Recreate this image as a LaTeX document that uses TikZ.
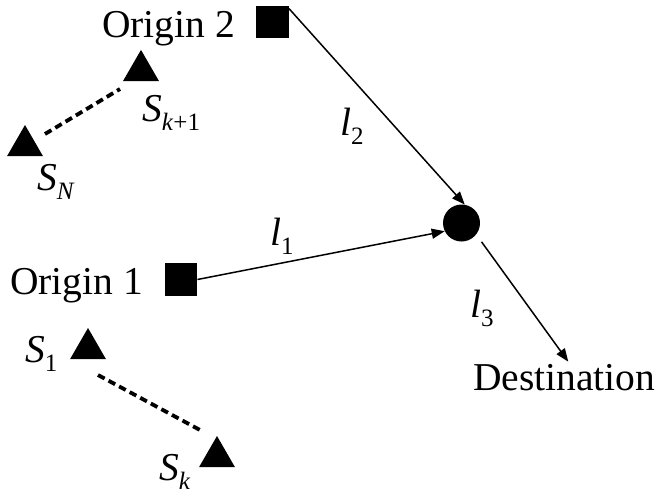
\documentclass[tikz,border=0pt]{standalone}
\usepackage{fontspec}
\setmainfont{Liberation Serif}
\usetikzlibrary{arrows.meta,shapes.geometric}
\newcommand{\sublab}[2]{\textit{#1}\raisebox{-0.24em}{\fontsize{25}{26}\selectfont #2}}
\begin{document}
\begin{tikzpicture}[x=1pt,y=-1pt,
  tri/.style={regular polygon, regular polygon sides=3, fill=black, inner sep=0pt, minimum size=41.6pt},
  sq/.style={rectangle, fill=black, minimum size=32.5pt, inner sep=0pt},
  dot/.style={circle, fill=black, minimum size=37pt, inner sep=0pt},
  lbl/.style={anchor=base west, inner sep=0pt, font=\fontsize{39.5}{41}\selectfont},
  link/.style={line width=1.5pt, -{Triangle[length=13pt,width=10pt]}},
  dashlink/.style={line width=3.8pt, dash pattern=on 7.5pt off 4.5pt}]
\useasboundingbox (0,0) rectangle (660,498);
% nodes
\node[sq] (o2) at (272.5,22) {};
\node[sq] (o1) at (181,279.5) {};
\node[dot] (c) at (461.5,223) {};
\node[tri] (tk1) at (141,70.7) {};
\node[tri] (tN) at (25,145.8) {};
\node[tri] (t1) at (88,348.8) {};
\node[tri] (tk) at (217,456.8) {};
% texts
\node[lbl] (o2t) at (102,37) {Origin 2};
\node[lbl] (o1t) at (10,294) {Origin 1};
\node[lbl] (dest) at (473,390) {Destination};
\node[lbl] (sk1) at (142,121) {\sublab{S}{\textit{k}+1}};
\node[lbl] (sN) at (37,190) {\sublab{S}{\textit{N}}};
\node[lbl] (s1) at (25,362) {\sublab{S}{1}};
\node[lbl] (sk) at (159,480) {\sublab{S}{\textit{k}}};
\node[lbl] (l2) at (340,135) {\sublab{l}{2}};
\node[lbl] (l1) at (270,245) {\sublab{l}{1}};
\node[lbl] (l3) at (470,317) {\sublab{l}{3}};
% dashed links
\coordinate (dA) at (45,134);
\coordinate (dB) at (120,89);
\coordinate (dC) at (98,375);
\coordinate (dD) at (200,430);
\draw[dashlink] (dA) -- (dB);
\draw[dashlink] (dC) -- (dD);
% arrows
\draw[link] ([yshift=-3pt]o2.north east) -- (c.80);
\draw[link] (o1.east) -- (c.206);
\draw[link, shorten <=9pt] (c.-38) -- ([xshift=4pt,yshift=2pt]dest.north);
\end{tikzpicture}
\end{document}
